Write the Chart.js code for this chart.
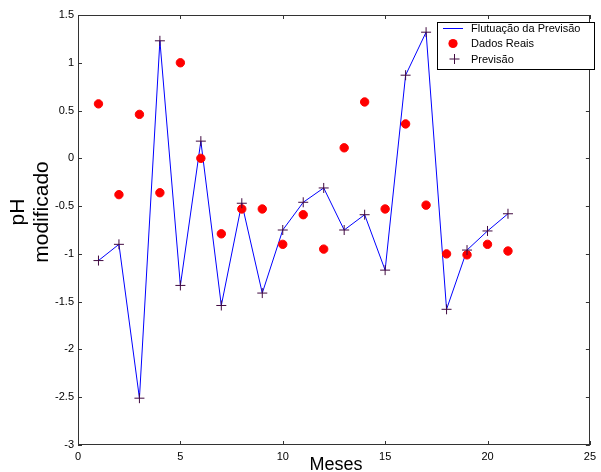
<!DOCTYPE html>
<html>
<head>
<meta charset="utf-8">
<script src="https://cdn.jsdelivr.net/npm/chart.js@4.4.1/dist/chart.umd.min.js"></script>
<style>
  html, body { margin: 0; padding: 0; background: #ffffff; }
  #wrap { width: 601px; height: 472px; }
</style>
</head>
<body>
<div id="wrap"><canvas id="c" width="601" height="472"></canvas></div>
<script>
// ---- data ----
const meses = [1, 2, 3, 4, 5, 6, 7, 8, 9, 10, 11, 12, 13, 14, 15, 16, 17, 18, 19, 20, 21];
const previsao = [-1.07, -0.90, -2.51, 1.23, -1.33, 0.18, -1.54, -0.47, -1.41, -0.75, -0.46,
                  -0.31, -0.75, -0.59, -1.17, 0.87, 1.32, -1.58, -0.96, -0.76, -0.58];
const dadosReais = [0.57, -0.38, 0.46, -0.36, 1.00, 0.00, -0.79, -0.53, -0.53, -0.90, -0.59,
                    -0.95, 0.11, 0.59, -0.53, 0.36, -0.49, -1.00, -1.01, -0.90, -0.97];
const xTicks = [0, 5, 10, 15, 20, 25];
const yTicks = [-3, -2.5, -2, -1.5, -1, -0.5, 0, 0.5, 1, 1.5];
const seriesLabels = ['Flutuação da Previsão', 'Dados Reais', 'Previsão'];
const xTitle = 'Meses';
const yTitle = ['pH', 'modificado'];

const FONT = '"Liberation Sans", Arial, sans-serif';
const LINE_COLOR = '#0000ff';
const DOT_COLOR = '#ff0000';
const CROSS_COLOR = '#400a40';

const toXY = (xs, ys) => xs.map((x, i) => ({ x: x, y: ys[i] }));

const framePlugin = {
  id: 'frame',
  afterDraw(chart) {
    const ctx = chart.ctx;
    const a = chart.chartArea;
    const xs = chart.scales.x, ys = chart.scales.y;
    ctx.save();
    ctx.strokeStyle = '#333333';
    ctx.lineWidth = 1;
    // box
    ctx.strokeRect(Math.round(a.left) + 0.5, Math.round(a.top) + 0.5,
                   Math.round(a.right - a.left) - 1, Math.round(a.bottom - a.top) - 1);
    // inward ticks
    const tl = 4;
    ctx.beginPath();
    xs.ticks.forEach(t => {
      const px = Math.round(xs.getPixelForValue(t.value)) + 0.5;
      ctx.moveTo(px, a.bottom); ctx.lineTo(px, a.bottom - tl);
      ctx.moveTo(px, a.top); ctx.lineTo(px, a.top + tl);
    });
    ys.ticks.forEach(t => {
      const py = Math.round(ys.getPixelForValue(t.value)) + 0.5;
      ctx.moveTo(a.left, py); ctx.lineTo(a.left + tl, py);
      ctx.moveTo(a.right, py); ctx.lineTo(a.right - tl, py);
    });
    ctx.stroke();

    // axis titles
    ctx.fillStyle = '#000000';
    ctx.font = '18px ' + FONT;
    ctx.textAlign = 'center';
    ctx.textBaseline = 'alphabetic';
    ctx.fillText(xTitle, (a.left + a.right) / 2 + 2, 470);

    ctx.font = '21px ' + FONT;
    const yc = 212;
    const baseX = [24, 48];
    yTitle.forEach((s, i) => {
      ctx.save();
      ctx.translate(baseX[i], yc);
      ctx.rotate(-Math.PI / 2);
      ctx.fillText(s, 0, 0);
      ctx.restore();
    });

    // legend
    const lx = 437.5, ly = 22.5, lw = 157, lh = 47;
    ctx.fillStyle = '#ffffff';
    ctx.fillRect(lx, ly, lw, lh);
    ctx.strokeStyle = '#000000';
    ctx.strokeRect(lx, ly, lw, lh);
    const rows = [28.5, 43.5, 59];
    ctx.font = '11px ' + FONT;
    ctx.textAlign = 'left';
    ctx.textBaseline = 'middle';
    ctx.fillStyle = '#000000';
    seriesLabels.forEach((s, i) => ctx.fillText(s, 471, rows[i] + 0.5));
    // line sample
    ctx.strokeStyle = LINE_COLOR;
    ctx.beginPath();
    ctx.moveTo(443, rows[0]); ctx.lineTo(463, rows[0]);
    ctx.stroke();
    // dot sample
    ctx.fillStyle = DOT_COLOR;
    ctx.beginPath();
    ctx.arc(453, rows[1], 4.6, 0, Math.PI * 2);
    ctx.fill();
    // cross sample
    ctx.strokeStyle = CROSS_COLOR;
    ctx.beginPath();
    ctx.moveTo(449.5, rows[2]); ctx.lineTo(459.5, rows[2]);
    ctx.moveTo(454.5, rows[2] - 5); ctx.lineTo(454.5, rows[2] + 5);
    ctx.stroke();
    ctx.restore();
  }
};

new Chart(document.getElementById('c'), {
  type: 'scatter',
  data: {
    datasets: [
      {
        label: seriesLabels[0],
        data: toXY(meses, previsao),
        showLine: true,
        borderColor: LINE_COLOR,
        borderWidth: 1,
        pointRadius: 0,
        tension: 0,
        order: 3
      },
      {
        label: seriesLabels[1],
        data: toXY(meses, dadosReais),
        showLine: false,
        pointStyle: 'circle',
        pointRadius: 4.2,
        borderWidth: 1,
        backgroundColor: DOT_COLOR,
        borderColor: DOT_COLOR,
        order: 2
      },
      {
        label: seriesLabels[2],
        data: toXY(meses, previsao),
        showLine: false,
        pointStyle: 'cross',
        pointRadius: 5,
        borderWidth: 1,
        borderColor: CROSS_COLOR,
        backgroundColor: CROSS_COLOR,
        order: 1
      }
    ]
  },
  options: {
    responsive: false,
    animation: false,
    devicePixelRatio: 1,
    layout: { padding: { top: 15, right: 5, left: 0, bottom: 0 } },
    plugins: { legend: { display: false }, tooltip: { enabled: false } },
    scales: {
      x: {
        type: 'linear',
        min: 0, max: 25,
        grid: { display: false, drawTicks: false },
        border: { display: false },
        afterBuildTicks: s => { s.ticks = xTicks.map(v => ({ value: v })); },
        afterFit: s => { s.height = 27; },
        ticks: {
          padding: 5,
          color: '#000000',
          font: { family: FONT, size: 11 },
          maxRotation: 0,
          callback: v => String(v)
        }
      },
      y: {
        type: 'linear',
        min: -3, max: 1.5,
        grid: { display: false, drawTicks: false },
        border: { display: false },
        afterBuildTicks: s => { s.ticks = yTicks.map(v => ({ value: v })); },
        afterFit: s => { s.width = 78; },
        ticks: {
          padding: 4,
          color: '#000000',
          font: { family: FONT, size: 11 },
          callback: v => String(v)
        }
      }
    }
  },
  plugins: [framePlugin]
});
</script>
</body>
</html>
